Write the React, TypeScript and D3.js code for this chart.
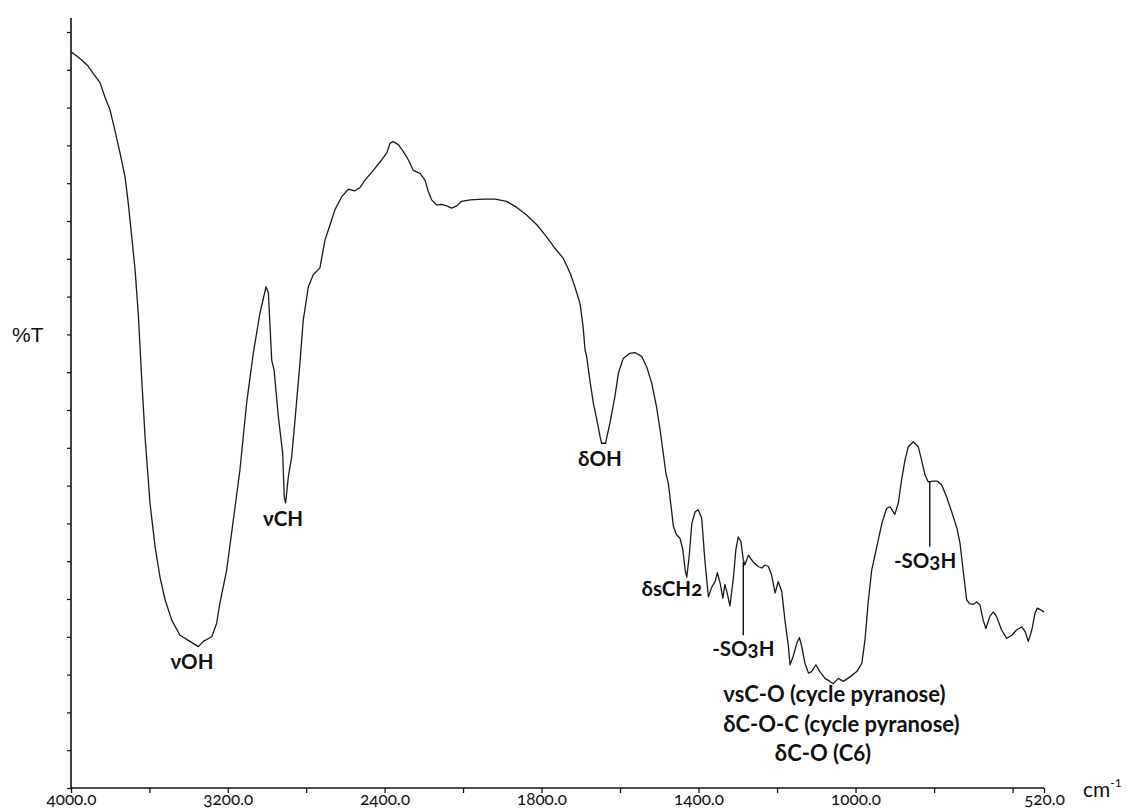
import React, { useEffect, useRef } from 'react';
import * as d3 from 'd3';

// FTIR spectrum: wavenumber (cm-1) and transmittance (%T)
const wavenumbers = [
  4000, 3969, 3937, 3913, 3886, 3852, 3827, 3801, 3776, 3750,
  3724, 3708, 3690, 3673, 3657, 3639, 3622, 3597, 3571, 3546,
  3520, 3486, 3444, 3393, 3350, 3325, 3282, 3257, 3240, 3206,
  3172, 3138, 3104, 3070, 3036, 3005, 2993, 2976, 2964, 2942,
  2920, 2912, 2905, 2891, 2874, 2857, 2832, 2815, 2789, 2764,
  2730, 2704, 2687, 2653, 2619, 2585, 2551, 2526, 2500, 2458,
  2423, 2389, 2372, 2356, 2330, 2305, 2279, 2254, 2219, 2194,
  2177, 2160, 2134, 2109, 2083, 2058, 2032, 2007, 1982, 1948,
  1918, 1889, 1863, 1838, 1812, 1787, 1766, 1745, 1727, 1715,
  1702, 1694, 1689, 1685, 1677, 1668, 1659, 1651, 1647, 1637,
  1626, 1613, 1604, 1592, 1575, 1562, 1545, 1532, 1519, 1507,
  1498, 1490, 1483, 1477, 1471, 1464, 1456, 1447, 1440, 1434,
  1430, 1424, 1417, 1409, 1401, 1392, 1384, 1375, 1366, 1358,
  1352, 1345, 1338, 1333, 1328, 1320, 1311, 1305, 1299, 1292,
  1286, 1282, 1273, 1261, 1248, 1239, 1231, 1222, 1214, 1205,
  1197, 1188, 1180, 1171, 1167, 1159, 1150, 1143, 1137, 1129,
  1120, 1112, 1101, 1091, 1078, 1065, 1057, 1044, 1031, 1014,
  997, 984, 976, 968, 959, 946, 933, 921, 912, 900,
  891, 883, 874, 866, 853, 840, 832, 823, 815, 802,
  792, 781, 768, 755, 742, 734, 726, 717, 710, 700,
  691, 683, 675, 668, 658, 649, 641, 628, 615, 602,
  590, 577, 568, 560, 551, 543, 537, 526, 520,
];

const transmittance = [
  97.4, 96.8, 96.1, 95.5, 94.5, 93.3, 91.4, 89.7, 87.0, 84.0,
  80.8, 77.4, 72.9, 68.5, 62.8, 54.0, 46.4, 37.7, 31.9, 27.9,
  24.9, 22.2, 20.2, 19.4, 18.7, 19.4, 20.0, 21.8, 24.5, 28.8,
  35.4, 42.1, 50.9, 57.5, 62.8, 66.3, 65.5, 56.6, 55.3, 49.1,
  44.3, 38.5, 37.7, 41.2, 43.8, 48.7, 56.2, 61.9, 66.3, 67.9,
  68.8, 72.5, 73.8, 76.5, 78.2, 79.2, 79.0, 79.4, 80.4, 81.7,
  82.8, 84.0, 85.3, 85.5, 85.1, 84.2, 83.1, 81.7, 81.3, 80.4,
  78.9, 77.8, 77.1, 77.2, 77.0, 76.7, 77.0, 77.6, 77.8, 77.9,
  77.9, 77.6, 76.8, 75.8, 74.5, 72.9, 71.4, 70.1, 68.1, 66.3,
  64.1, 61.0, 57.9, 57.1, 54.0, 50.9, 48.7, 46.5, 45.6, 45.6,
  48.2, 51.8, 54.9, 56.8, 57.5, 57.6, 57.1, 55.7, 53.5, 50.4,
  47.4, 44.3, 41.6, 40.3, 37.7, 34.6, 33.5, 33.0, 31.5, 28.8,
  27.9, 30.6, 35.0, 36.5, 36.8, 35.7, 30.2, 25.3, 26.6, 27.3,
  28.5, 27.1, 25.1, 26.9, 26.0, 24.1, 27.9, 31.5, 33.2, 32.6,
  30.2, 29.5, 30.8, 29.9, 29.3, 29.1, 29.5, 29.3, 28.2, 25.8,
  27.3, 26.0, 22.2, 18.7, 16.3, 17.4, 19.1, 19.9, 18.7, 16.5,
  15.2, 15.4, 16.3, 15.4, 14.5, 14.1, 13.8, 14.5, 14.1, 14.7,
  15.4, 16.5, 19.6, 24.5, 28.8, 31.9, 35.0, 37.0, 37.2, 36.2,
  37.7, 40.7, 43.4, 45.1, 45.8, 45.1, 43.4, 41.4, 40.5, 40.6,
  40.6, 40.1, 38.5, 36.5, 34.4, 32.4, 28.8, 24.9, 24.4, 24.3,
  24.6, 24.2, 22.2, 21.1, 22.7, 23.3, 22.7, 20.9, 19.8, 20.2,
  20.9, 21.3, 20.7, 19.4, 20.9, 23.1, 23.8, 23.5, 23.3,
];

// Axis ticks (the instrument scale changes at 2000 cm-1)
const xTickValues = [4000, 3600, 3200, 2800, 2400, 2000, 1800, 1600, 1400, 1200, 1000, 800, 600, 520];
const xTickLabels = [4000, 3200, 2400, 1800, 1400, 1000, 520];
const yTickValues = d3.range(0, 101, 5);

// Band assignments: label text, centre wavenumber, baseline level (%T), font size
const bandLabels = [
  { text: 'νOH', wn: 3383, t: 15.7, size: 20.5 },
  { text: 'νCH', wn: 2918, t: 34.7, size: 20.5 },
  { text: 'δOH', wn: 1651, t: 42.6, size: 20.5 },
  { text: 'δsCH2', wn: 1468, t: 25.4, size: 20.5 },
  { text: '-SO3H', wn: 1286, t: 17.5, size: 20.5 },
  { text: '-SO3H', wn: 823, t: 29.1, size: 20.5 },
  { text: 'νsC-O (cycle pyranose)', wn: 1054, t: 11.4, size: 22 },
  { text: 'δC-O-C (cycle pyranose)', wn: 1036, t: 7.4, size: 22 },
  { text: 'δC-O (C6)', wn: 1083, t: 3.6, size: 22 },
];

// Leader lines for the sulfonic group bands: wavenumber, top %T, bottom %T
const leaders = [
  { wn: 1286, t0: 29.9, t1: 20.2 },
  { wn: 811, t0: 40.5, t1: 31.9 },
];

const W = 1127;
const H = 810;
const LABEL_FONT = 'Lato, "Open Sans", "DejaVu Sans", sans-serif';

export default function App() {
  const xAxisRef = useRef<SVGGElement>(null);
  const yAxisRef = useRef<SVGGElement>(null);

  const x = d3.scaleLinear().domain([4000, 2000, 520]).range([71, 463, 1044]);
  const y = d3.scaleLinear().domain([0, 100]).range([788, 32]);

  const points = wavenumbers.map((wn, i) => [wn, transmittance[i]] as [number, number]);
  const line = d3
    .line<[number, number]>()
    .x((d) => x(d[0]))
    .y((d) => y(d[1]));

  useEffect(() => {
    if (xAxisRef.current) {
      const g = d3.select(xAxisRef.current);
      g.selectAll('*').remove();
      g.call(
        d3
          .axisBottom(x)
          .tickValues(xTickValues)
          .tickSize(5)
          .tickSizeOuter(0)
          .tickFormat((d) => (xTickLabels.includes(d as number) ? d3.format('.1f')(d as number) : ''))
      );
      g.select('.domain').remove();
      g.selectAll('.tick line').attr('stroke', '#111').attr('stroke-width', 1.3);
      g.selectAll('.tick text')
        .attr('y', 5)
        .attr('dy', '0.71em')
        .style('font-family', LABEL_FONT)
        .style('font-size', '17px')
        .style('font-variant-numeric', 'oldstyle-nums')
        .style('font-feature-settings', '"onum" 1')
        .attr('fill', '#111');
    }
    if (yAxisRef.current) {
      const g = d3.select(yAxisRef.current);
      g.selectAll('*').remove();
      g.call(d3.axisLeft(y).tickValues(yTickValues).tickSize(4).tickSizeOuter(0).tickFormat(() => ''));
      g.select('.domain').remove();
      g.selectAll('.tick line').attr('stroke', '#111').attr('stroke-width', 1.2);
    }
  });

  return (
    <svg
      width={W}
      height={H}
      style={{ position: 'absolute', left: 0, top: 0, background: '#fff' }}
    >
      <rect x={0} y={0} width={W} height={H} fill="#fff" />
      {/* axes */}
      <g ref={xAxisRef} transform={`translate(0,${y(0)})`} />
      <g ref={yAxisRef} transform={`translate(${x(4000)},0)`} />
      <line x1={x(4000)} x2={x(4000)} y1={18} y2={y(0)} stroke="#111" strokeWidth={1.6} />
      <line x1={x(4000)} x2={x(520)} y1={y(0)} y2={y(0)} stroke="#111" strokeWidth={1.6} />

      {/* spectrum */}
      <path d={line(points) ?? ''} fill="none" stroke="#1a1a1a" strokeWidth={1.3} strokeLinejoin="round" />

      {/* leader lines */}
      {leaders.map((l, i) => (
        <line key={i} x1={x(l.wn)} x2={x(l.wn)} y1={y(l.t0)} y2={y(l.t1)} stroke="#111" strokeWidth={1.4} />
      ))}

      {/* band assignments */}
      {bandLabels.map((b, i) => (
        <text
          key={i}
          x={x(b.wn)}
          y={y(b.t)}
          textAnchor="middle"
          fontFamily={LABEL_FONT}
          fontWeight={700}
          fontSize={b.size}
          fill="#111"
          style={{ fontVariantNumeric: 'oldstyle-nums', fontFeatureSettings: '"onum" 1' }}
        >
          {b.text}
        </text>
      ))}

      {/* axis titles */}
      <text
        x={12}
        y={342}
        fontFamily='"Liberation Sans Narrow", "Liberation Sans", Arial, sans-serif'
        fontSize={21}
        fill="#111"
      >
        %T
      </text>
      <text x={1083} y={797} fontFamily={LABEL_FONT} fontSize={21} fill="#111">
        cm
        <tspan fontSize={12} dy={-10}>
          -1
        </tspan>
      </text>
    </svg>
  );
}
